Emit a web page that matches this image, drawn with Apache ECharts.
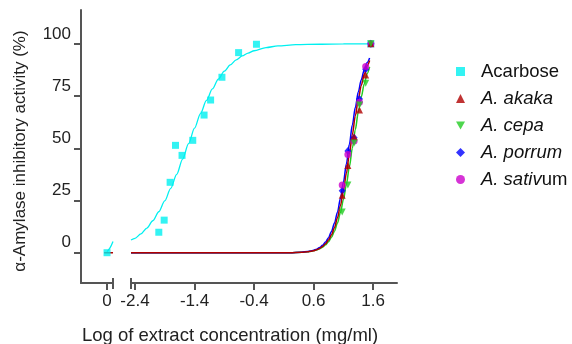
<!DOCTYPE html>
<html><head><meta charset="utf-8">
<script src="https://cdn.jsdelivr.net/npm/echarts@6/dist/echarts.min.js"></script>
<style>html,body{margin:0;padding:0;background:#fff}#c{width:572px;height:344px}</style>
</head><body><div id="c"></div>
<script>
// ---- data ----
const xTicksRight = [-2.4, -1.4, -0.4, 0.6, 1.6];
const xTicksLeft = [0];
const yTicks = [0, 25, 50, 75, 100];

const acarX = [-2.0, -1.91, -1.81, -1.72, -1.61, -1.43, -1.24, -1.13, -0.94, -0.66, -0.36, 1.56];
const acarY = [9.8, 15.6, 33.7, 51.4, 46.6, 53.8, 65.9, 73.1, 84.0, 95.8, 99.8, 100];

const plantX = [1.08, 1.175, 1.28, 1.37, 1.474, 1.561];
const akaka = [27.5, 41.7, 55.5, 68.3, 85.1, 100];
const cepa = [19.5, 32.4, 52.5, 70.7, 81.1, 100];
const porrum = [29.7, 48.7, 55.0, 73.6, 87.8, 100];
const sativum = [32.4, 47.0, 53.5, 72.0, 89.1, 100];

// zero-concentration points (left axis segment)
const zeroX = [0];
const zeroY = [0];

// fitted curves
const acarCurveX = [-2.467, -2.4, -2.3, -2.2, -2.1, -2.0, -1.9, -1.8, -1.7, -1.6, -1.5, -1.4, -1.3, -1.2, -1.1, -1.0, -0.9, -0.8, -0.7, -0.6, -0.5, -0.4, -0.2, 0.0, 0.3, 0.7, 1.1, 1.56];
const acarCurveY = [6.1, 6.9, 9.0, 11.8, 15.3, 19.6, 24.8, 30.8, 37.5, 44.8, 52.2, 59.6, 66.6, 72.9, 78.4, 83.1, 86.9, 89.9, 92.3, 94.2, 95.6, 96.7, 98.2, 99.0, 99.6, 99.8, 99.95, 100];
const acarCurveLeftX = [0, 0.05, 0.1];
const acarCurveLeftY = [0.5, 2.3, 5.4];

const plantCurveX = [-2.467, 0.2, 0.4, 0.5, 0.55, 0.6, 0.65, 0.7, 0.75, 0.8, 0.85, 0.9, 0.95, 1.0, 1.05, 1.1, 1.15, 1.2, 1.25, 1.3, 1.35, 1.4, 1.45, 1.5, 1.54];
const porrumCurve = [0, 0.03, 0.27, 0.56, 0.82, 1.18, 1.71, 2.47, 3.56, 5.1, 7.2, 10.2, 14.2, 19.4, 25.9, 33.7, 42.5, 51.9, 61.1, 69.5, 76.9, 82.8, 87.6, 91.1, 93.2];
const akakaCurve = [0, 0.02, 0.2, 0.47, 0.68, 0.98, 1.42, 2.06, 2.96, 4.27, 6.1, 8.6, 12.0, 16.7, 22.5, 29.7, 38.0, 47.2, 56.5, 65.5, 73.4, 80.1, 85.4, 89.5, 92.0];
const cepaCurve = [0, 0.02, 0.2, 0.45, 0.64, 0.92, 1.31, 1.87, 2.66, 3.77, 5.3, 7.44, 10.3, 14.2, 19.2, 25.4, 32.7, 41.1, 50.0, 58.9, 67.3, 74.6, 80.8, 85.8, 89.0];
const plantCurveLeftX = [-0.05, 0.1];
const plantCurveLeftY = [0, 0];

// ---- styles ----
const C = {acar:'#00F0F0', akaka:'#B00000', cepa:'#22CC22', porrum:'#0000FF', sativum:'#CC00CC'};
const FONT = "'Liberation Sans', Arial, sans-serif";
const AX = '#555';
const downTri = 'path://M0,0 L10,0 L5,9 Z';
const zip = (xs, ys) => xs.map((x, i) => [x, ys[i]]);

const chart = echarts.init(document.getElementById('c'), null, {renderer:'canvas'});

const baseX = {
  type:'value', axisLine:{show:true, onZero:false, lineStyle:{color:AX, width:2}},
  axisTick:{show:true, length:7, lineStyle:{color:AX, width:2}},
  axisLabel:{color:'#222', fontSize:17, fontFamily:FONT, margin:10},
  splitLine:{show:false}
};
const yRange = {min:-14.5, max:116.2};

const option = {
  animation:false,
  grid:[
    {left:81, top:10, width:32, height:273},
    {left:131, top:10, width:266, height:273}
  ],
  xAxis:[
    Object.assign({}, baseX, {gridIndex:0, min:-0.437, max:0.1,
      axisTick:Object.assign({}, baseX.axisTick, {customValues:xTicksLeft}),
      axisLabel:Object.assign({}, baseX.axisLabel, {customValues:xTicksLeft})}),
    Object.assign({}, baseX, {gridIndex:1, min:-2.467, max:2.0,
      axisTick:Object.assign({}, baseX.axisTick, {customValues:xTicksRight}),
      axisLabel:Object.assign({}, baseX.axisLabel, {customValues:xTicksRight})})
  ],
  yAxis:[
    Object.assign({gridIndex:0, type:'value'}, yRange, {
      axisLine:{show:true, onZero:false, lineStyle:{color:AX, width:2}},
      axisTick:{show:true, length:7, customValues:yTicks, lineStyle:{color:AX, width:2}},
      axisLabel:{customValues:yTicks, color:'#222', fontSize:17, fontFamily:FONT, margin:10, verticalAlign:'bottom', lineHeight:20},
      splitLine:{show:false}}),
    Object.assign({gridIndex:1, type:'value', show:false}, yRange, {splitLine:{show:false}})
  ],
  legend:{
    orient:'vertical', left:456, top:62, padding:0, itemGap:8, itemWidth:9, itemHeight:9,
    textStyle:{fontSize:18.5, fontFamily:FONT, color:'#111', padding:[0,0,0,11],
      rich:{i:{fontSize:18.5, fontFamily:FONT, fontStyle:'italic', color:'#111'}}},
    formatter: n => n === 'Acarbose' ? n : (n === 'A. sativum' ? '{i|A. sativ}um' : '{i|' + n + '}'),
    data:[
      {name:'Acarbose', icon:'rect'},
      {name:'A. akaka', icon:'triangle'},
      {name:'A. cepa', icon:downTri},
      {name:'A. porrum', icon:'diamond'},
      {name:'A. sativum', icon:'circle'}
    ]
  },
  graphic:[
    {type:'line', shape:{x1:113, y1:278, x2:113, y2:289}, style:{stroke:AX, lineWidth:2}, z:100},
    {type:'line', shape:{x1:131, y1:278, x2:131, y2:289}, style:{stroke:AX, lineWidth:2}, z:100},
    {type:'text', x:230, y:336, style:{text:'Log of extract concentration (mg/ml)', fontSize:18.5, fontFamily:FONT, fill:'#222', align:'center', verticalAlign:'middle'}},
    {type:'text', x:20, y:151, rotation:Math.PI/2, style:{text:'α-Amylase inhibitory activity (%)', fontSize:17, fontFamily:FONT, fill:'#222', align:'center', verticalAlign:'middle'}}
  ],
  series:[
    // fitted curves
    {name:'fitAcar', type:'line', xAxisIndex:1, yAxisIndex:1, data:zip(acarCurveX, acarCurveY), smooth:0.3, smoothMonotone:'x', showSymbol:false, lineStyle:{color:C.acar, width:1.3}, silent:true, z:2},
    {name:'fitAcarL', type:'line', xAxisIndex:0, yAxisIndex:0, data:zip(acarCurveLeftX, acarCurveLeftY), smooth:0.3, showSymbol:false, lineStyle:{color:C.acar, width:1.3}, silent:true, z:2},
    {name:'fitCepa', type:'line', xAxisIndex:1, yAxisIndex:1, data:zip(plantCurveX, cepaCurve), smooth:0.3, smoothMonotone:'x', showSymbol:false, lineStyle:{color:C.cepa, width:1.5}, silent:true, z:2},
    {name:'fitPorrum', type:'line', xAxisIndex:1, yAxisIndex:1, data:zip(plantCurveX, porrumCurve), smooth:0.3, smoothMonotone:'x', showSymbol:false, lineStyle:{color:C.porrum, width:1.5}, silent:true, z:2},
    {name:'fitAkaka', type:'line', xAxisIndex:1, yAxisIndex:1, data:zip(plantCurveX, akakaCurve), smooth:0.3, smoothMonotone:'x', showSymbol:false, lineStyle:{color:C.akaka, width:1.5}, silent:true, z:2},
    {name:'fitAkakaL', type:'line', xAxisIndex:0, yAxisIndex:0, data:zip(plantCurveLeftX, plantCurveLeftY), showSymbol:false, lineStyle:{color:C.akaka, width:1.5}, silent:true, z:2},
    // points
    {name:'A. porrum', type:'scatter', xAxisIndex:1, yAxisIndex:1, data:zip(plantX, porrum), symbol:'diamond', symbolSize:[7,8], itemStyle:{color:C.porrum}, z:3},
    {name:'A. sativum', type:'scatter', xAxisIndex:1, yAxisIndex:1, data:zip(plantX, sativum), symbol:'circle', symbolSize:7, itemStyle:{color:C.sativum}, z:3},
    {name:'A. akaka', type:'scatter', xAxisIndex:1, yAxisIndex:1, data:zip(plantX, akaka), symbol:'triangle', symbolSize:7, itemStyle:{color:C.akaka}, z:3},
    {name:'A. cepa', type:'scatter', xAxisIndex:1, yAxisIndex:1, data:zip(plantX, cepa), symbol:downTri, symbolSize:7, itemStyle:{color:C.cepa}, z:3},
    {name:'Acarbose', type:'scatter', xAxisIndex:1, yAxisIndex:1, data:zip(acarX, acarY), symbol:'rect', symbolSize:7, itemStyle:{color:C.acar}, z:2},
    {name:'Acarbose', type:'scatter', xAxisIndex:0, yAxisIndex:0, data:zip(zeroX, zeroY), symbol:'rect', symbolSize:7, itemStyle:{color:C.acar}, z:4}
  ]
};
chart.setOption(option);
</script></body></html>
